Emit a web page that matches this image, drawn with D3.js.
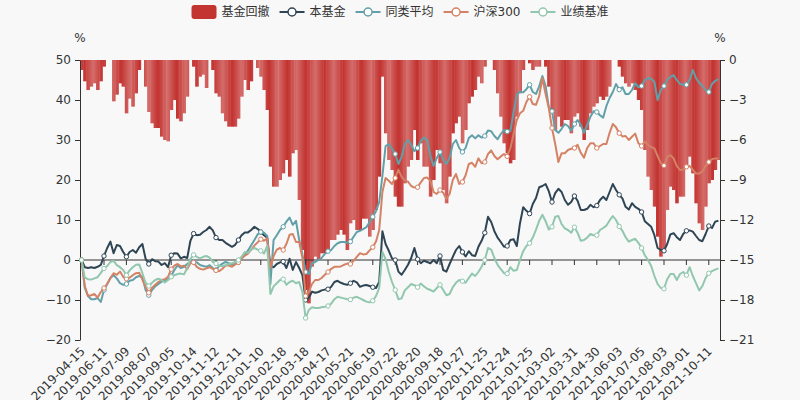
<!DOCTYPE html>
<html><head><meta charset="utf-8">
<script src="https://cdn.jsdelivr.net/npm/d3@7"></script>
<style>
body{margin:0;background:#f8f8f8;}
svg{display:block;}
text{font-family:"DejaVu Sans","Noto Sans CJK SC",sans-serif;}
</style>
</head><body>
<svg id="c" width="800" height="400"></svg>
<script>
const tickLabels = ["2019-04-15","2019-06-11","2019-07-09","2019-08-07","2019-09-05","2019-10-14","2019-11-12","2019-12-11","2020-01-10","2020-02-18","2020-03-18","2020-04-17","2020-05-21","2020-06-19","2020-07-22","2020-08-20","2020-09-18","2020-10-27","2020-11-25","2020-12-24","2021-01-25","2021-03-02","2021-03-31","2021-04-30","2021-06-03","2021-07-05","2021-08-03","2021-09-01","2021-10-11"];
const labelEvery = 7;
const seriesNames = ["基金回撤","本基金","同类平均","沪深300","业绩基准"];
const seriesColors = ["#c23531","#2f4554","#61a0a8","#d48265","#91c7ae"];
const leftTicks = [-20,-10,0,10,20,30,40,50];
const rightTicks = [0,-3,-6,-9,-12,-15,-18,-21];

const fund = [0,-1.8,-2,-1.8,-2,-1.7,-1.2,1.0,3.0,4.6,
1.7,3.75,3.5,2.0,0.8,2.0,2.5,1.8,3.2,4.0,
0.3,-1.0,0.2,-0.3,-0.4,-1.25,-0.8,-1.8,1.2,1.7,
1.6,0.4,0.8,0.5,4.8,6.6,6.2,6.3,7.0,7.5,
8.3,7.4,5.6,5.0,5.0,4.3,3.8,3.3,3.8,5.0,
6.2,6.9,6.9,7.5,8.3,7.8,7.0,6.2,5.6,-1.5,
-1.8,-1.0,-0.6,-0.4,-2.0,0.3,-2.5,-0.5,-2.0,-3.8,
-10.0,-9.5,-7.9,-8.2,-8.0,-7.6,-7.4,-7.3,-6.7,-5.5,
-5.2,-5.7,-6.0,-6.2,-5.8,-5.2,-5.6,-6.7,-6.4,-6.25,
-6.5,-6.8,-7.0,-5.5,7.2,4.0,2.3,0.4,0.0,-2.9,
-3.7,-2.5,-1.2,0.5,3.0,0.2,-0.8,-0.2,-0.5,-0.8,
0.0,-0.8,1.0,-2.5,-2.9,-1.0,0.8,2.5,3.5,2.0,
0.9,2.2,1.2,1.0,3.3,4.8,6.8,10.8,9.5,7.2,
5.6,4.5,3.3,3.5,5.0,5.2,3.5,9.2,13.2,12.3,
11.6,14.0,15.5,18.2,18.5,19.0,17.2,14.5,16.7,17.8,
17.0,15.0,13.8,14.5,16.0,14.8,12.5,12.5,12.8,13.8,
13.2,13.6,15.0,15.8,15.0,17.0,19.0,17.5,16.3,15.4,
13.3,12.6,14.2,13.3,12.8,12.0,9.7,9.0,8.3,6.2,
3.0,2.5,2.3,4.0,6.4,6.7,5.7,5.0,6.5,7.3,
7.4,7.1,6.0,5.0,4.7,6.5,8.5,8.0,9.6,9.8];

const peer = [0,-7.0,-9.0,-9.8,-9.8,-9.5,-10.5,-7.5,-6.0,-4.5,
-3.8,-4.6,-5.8,-6.2,-6.0,-5.2,-5.0,-4.3,-4.0,-4.2,
-7.5,-8.8,-7.5,-6.6,-6.0,-5.4,-5.2,-4.8,-4.0,-2.5,
-1.3,-2.0,-1.7,-1.0,-0.4,-0.4,-0.6,-1.25,-1.5,-1.7,
-1.3,-2.0,-2.5,-1.5,-0.9,-0.5,-0.8,-1.25,-0.9,-0.5,
0.4,1.2,2.4,3.7,5.0,6.4,7.0,6.8,6.0,-6.0,
5.0,6.2,7.5,8.3,9.6,10.6,8.8,9.8,5.0,1.5,
-3.0,-3.5,-0.8,-0.5,0.0,0.5,1.5,2.2,2.5,3.5,
4.2,4.5,4.5,4.3,4.6,5.8,7.0,7.3,7.7,8.2,
9.5,10.8,12.2,14.5,21.0,28.5,29.0,27.8,26.5,24.0,
25.8,29.0,30.0,28.8,27.2,28.0,29.8,30.6,30.0,26.0,
23.5,25.5,27.0,25.0,24.0,25.5,29.0,30.0,28.0,27.0,
28.0,30.5,31.2,30.4,31.2,30.6,31.0,32.4,32.2,31.0,
30.2,31.5,32.5,32.1,32.3,37.0,41.3,42.1,41.9,42.7,
43.8,42.0,41.5,43.4,46.0,43.5,38.3,37.2,32.5,31.8,
32.8,34.0,33.5,32.3,34.0,35.0,33.8,31.8,33.8,35.8,
37.2,37.0,36.2,35.6,38.5,40.5,42.0,44.0,42.6,43.2,
41.5,41.5,42.5,44.2,43.2,43.5,45.0,45.5,45.3,44.5,
40.0,42.5,43.5,45.0,45.8,46.2,45.0,44.0,43.8,43.8,
45.0,47.5,45.5,44.3,43.5,42.5,42.0,44.0,44.8,45.2];

const hs300 = [0,-6.5,-9.0,-8.8,-8.5,-9.4,-8.0,-7.0,-6.0,-4.5,
-3.3,-3.7,-2.9,-4.2,-4.7,-4.4,-3.8,-3.3,-3.2,-4.9,
-6.8,-8.2,-7.0,-6.2,-5.5,-5.0,-4.8,-4.2,-2.3,-1.4,
-1.0,-1.6,-1.4,-2.3,-0.8,-0.6,-1.7,-2.2,-2.4,-2.1,
-1.8,-2.2,-2.6,-2.8,-2.2,-1.4,-1.4,-1.7,-1.1,-0.6,
0.4,1.1,1.6,2.6,3.6,4.4,5.2,4.8,5.4,-2.0,
1.0,2.6,3.0,2.5,4.0,6.3,6.5,4.5,4.5,0.5,
-9.0,-8.0,-6.0,-5.0,-5.0,-4.5,-3.7,-3.0,-2.2,-1.7,
-1.7,-1.6,-1.2,-0.9,-1.0,-0.2,0.8,1.7,1.4,1.5,
2.4,3.2,4.6,7.5,17.0,20.5,19.8,19.0,20.5,22.6,
20.8,19.9,19.6,18.5,18.1,18.2,19.4,20.5,20.6,19.8,
17.0,16.5,17.5,16.8,15.3,16.5,20.0,21.5,19.0,19.5,
21.2,24.0,24.3,23.3,25.4,24.2,24.5,26.5,27.4,26.0,
25.2,25.9,26.5,25.9,28.0,31.5,35.0,36.7,37.3,39.5,
40.8,39.0,38.8,41.0,45.5,41.5,38.0,33.0,29.0,24.5,
26.7,26.7,27.5,27.8,28.0,28.8,26.8,25.6,28.0,29.2,
29.2,28.0,28.5,29.0,29.0,31.8,34.0,33.2,31.7,30.9,
31.0,30.0,30.8,31.6,29.2,28.5,29.6,28.8,28.2,27.9,
26.0,24.2,23.6,25.8,26.2,25.4,23.5,22.5,22.6,23.3,
23.5,22.6,21.6,21.6,22.2,23.5,24.5,25.2,25.4,25.4];

const bench = [0,-4.4,-4.8,-4.9,-4.6,-4.3,-3.2,-2.1,-1.5,-0.5,
-0.2,-1.3,-1.8,-2.5,-3.8,-2.6,-1.8,-1.2,-1.1,-3.3,
-5.7,-6.5,-5.7,-5.0,-4.7,-5.0,-5.6,-5.0,-4.2,-3.8,
-3.5,-3.4,-3.6,-2.0,0.3,1.3,0.8,0.4,0.8,1.0,
0.6,-0.5,-0.9,-1.5,-1.5,-1.3,-1.0,-0.8,-0.5,0.0,
0.8,2.0,1.8,2.6,3.0,2.6,2.3,1.6,3.5,-8.5,
-6.6,-5.8,-5.0,-4.8,-6.2,-5.5,-5.2,-5.8,-5.5,-8.0,
-14.5,-12.5,-11.8,-12.0,-12.0,-11.8,-11.7,-11.5,-10.9,-9.8,
-9.2,-9.4,-9.6,-9.8,-9.9,-9.4,-9.2,-9.6,-10.0,-10.4,
-10.6,-10.2,-9.0,-7.0,2.0,0.2,-3.0,-5.5,-7.5,-9.8,
-9.6,-7.6,-6.8,-6.0,-6.3,-6.8,-5.9,-6.6,-7.2,-7.5,
-7.9,-7.0,-6.2,-7.5,-8.8,-8.5,-6.8,-5.7,-5.0,-5.3,
-5.7,-4.5,-3.4,-4.0,-3.0,-1.7,0.0,3.0,2.6,0.5,
-1.2,-2.3,-3.3,-3.4,-1.8,-2.7,-2.5,0.0,2.2,3.5,
4.2,5.6,7.6,9.8,11.3,9.7,7.6,8.3,10.8,11.0,
9.0,7.9,7.5,6.8,8.2,6.8,4.8,5.0,5.6,6.5,
6.2,6.2,7.5,8.0,8.6,9.9,11.0,10.0,8.4,7.3,
5.7,4.6,5.0,5.3,4.3,3.0,1.2,0.0,-1.5,-4.0,
-6.0,-7.0,-7.2,-4.8,-3.5,-3.5,-5.0,-3.5,-3.0,-3.8,
-1.8,-4.0,-5.8,-7.6,-6.5,-4.5,-3.3,-2.8,-2.4,-2.1];

const drawdown = [-0.75,-1.6,-2.25,-2.0,-1.75,-2.25,-1.6,-0.5,0,0,
-3.1,-2.6,-1.75,-2.0,-4.0,-2.9,-3.5,-2.5,-0.75,0,
-2.0,-3.9,-4.75,-5.1,-5.1,-5.75,-6.0,-6.1,-3.75,-3.0,
-4.4,-4.6,-4.0,-2.75,0,-0.5,-2.0,-1.25,-1.1,-2.1,
0,-0.75,-2.5,-2.75,-4.0,-4.6,-5.0,-5.0,-5.0,-4.4,
-2.75,-1.5,-2.25,-1.6,0,-0.6,-1.25,-2.25,-3.75,-8.0,
-9.5,-9.5,-9.0,-8.5,-7.5,-8.75,-7.0,-6.75,-10.5,-14.25,
-17.25,-18.25,-15.5,-14.75,-15.0,-14.5,-14.5,-14.25,-13.5,-13.5,
-13.1,-12.75,-13.1,-14.25,-12.25,-12.0,-12.75,-12.75,-11.9,-11.9,
-13.25,-12.75,-11.25,-8.75,-1.25,-5.5,-7.5,-8.25,-10.25,-11.0,
-11.0,-9.25,-8.0,-7.5,-5.25,-7.5,-6.25,-8.0,-8.0,-10.25,
-9.0,-6.75,-7.75,-9.75,-10.75,-8.75,-5.5,-4.75,-4.25,-6.25,
-5.25,-3.25,-2.75,-2.25,-1.25,-1.75,-0.5,0,0,-0.75,
-2.5,-4.25,-6.25,-7.0,-7.75,-7.5,-4.25,-2.5,-0.75,0,
-0.25,-0.75,-0.5,-0.5,0,-0.5,-2.0,-3.75,-5.25,-4.25,
-5.0,-4.5,-4.5,-5.5,-4.25,-4.0,-5.0,-6.0,-5.25,-4.0,
-3.5,-3.25,-2.75,-3.0,-2.75,-2.0,0,0,-0.5,-1.25,
-1.75,-2.0,-1.75,-2.25,-3.0,-3.75,-6.75,-8.75,-9.75,-11.0,
-13.25,-14.75,-14.25,-11.25,-9.5,-9.75,-10.75,-10.25,-10.25,-8.0,
-7.25,-8.5,-10.75,-12.25,-12.75,-11.0,-9.25,-9.0,-8.25,-7.5];

const lineSeries = [fund, peer, hs300, bench];

const W = 800, H = 400;
const plot = {l: 80, r: 720, t: 60, b: 340};
const svg = d3.select("#c");
svg.append("rect").attr("width", W).attr("height", H).attr("fill", "#f8f8f8");

const n = fund.length;
const x = d3.scaleBand().domain(d3.range(n)).range([plot.l, plot.r]).padding(0);
const bw = x.bandwidth();
const cx = i => x(i) + bw / 2;
const yL = d3.scaleLinear().domain([-20, 50]).range([plot.b, plot.t]);
const yR = d3.scaleLinear().domain([-21, 0]).range([plot.b, plot.t]);

const defs = svg.append("defs");
const grad = defs.append("linearGradient").attr("id", "stripe")
  .attr("gradientUnits", "userSpaceOnUse")
  .attr("x1", plot.l + 4).attr("x2", plot.l + 4 + 18.5).attr("y1", 0).attr("y2", 0)
  .attr("spreadMethod", "repeat");
grad.append("stop").attr("offset", 0).attr("stop-color", "#c2322f");
grad.append("stop").attr("offset", 0.5).attr("stop-color", "#d46d6b");
grad.append("stop").attr("offset", 1).attr("stop-color", "#c2322f");

// drawdown bars (right axis)
svg.append("g").selectAll("rect").data(drawdown).join("rect")
  .attr("x", (d, i) => x(i))
  .attr("width", bw + 0.4)
  .attr("y", yR(0))
  .attr("height", d => Math.max(0, yR(d) - yR(0)))
  .attr("fill", "url(#stripe)");

// axes
const axisColor = "#333";
const gL = svg.append("g").attr("transform", `translate(${plot.l},0)`)
  .call(d3.axisLeft(yL).tickValues(leftTicks).tickSize(5).tickSizeOuter(0).tickPadding(4));
const gR = svg.append("g").attr("transform", `translate(${plot.r},0)`)
  .call(d3.axisRight(yR).tickValues(rightTicks).tickSize(5).tickSizeOuter(0).tickPadding(4));
[gL, gR].forEach(g => {
  g.select(".domain").attr("stroke", axisColor);
  g.selectAll(".tick line").attr("stroke", axisColor);
  g.selectAll(".tick text").attr("fill", "#333").attr("font-size", 12)
    .attr("font-family", "\"DejaVu Sans\", sans-serif");
});
svg.append("text").attr("x", plot.l).attr("y", 42).attr("text-anchor", "middle")
  .attr("font-size", 12).attr("fill", "#333").text("%");
svg.append("text").attr("x", plot.r).attr("y", 42).attr("text-anchor", "middle")
  .attr("font-size", 12).attr("fill", "#333").text("%");

// x axis line at zero
const y0 = yL(0);
svg.append("line").attr("x1", plot.l).attr("x2", plot.r).attr("y1", y0).attr("y2", y0)
  .attr("stroke", axisColor);
const labelIdx = tickLabels.map((t, k) => k * labelEvery);
svg.append("g").selectAll("line").data(labelIdx).join("line")
  .attr("x1", i => cx(i)).attr("x2", i => cx(i))
  .attr("y1", y0).attr("y2", y0 + 5).attr("stroke", axisColor);
svg.append("g").selectAll("text").data(tickLabels).join("text")
  .attr("transform", (t, k) => `translate(${cx(labelIdx[k]) + 1},${plot.b + 9}) rotate(-45)`)
  .attr("text-anchor", "end").attr("dy", "0.35em")
  .attr("font-size", 12).attr("fill", "#333")
  .text(t => t);

// lines
const line = d3.line().x((d, i) => cx(i)).y(d => yL(d));
lineSeries.forEach((s, si) => {
  const col = seriesColors[si + 1];
  svg.append("path").datum(s).attr("d", line).attr("fill", "none")
    .attr("stroke", col).attr("stroke-width", 2).attr("stroke-linejoin", "round");
  svg.append("g").selectAll("circle").data(labelIdx).join("circle")
    .attr("cx", i => cx(i)).attr("cy", i => yL(s[i])).attr("r", 2.2)
    .attr("fill", "#fff").attr("stroke", col).attr("stroke-width", 1);
});

// legend
const lg = svg.append("g");
let off = 0;
seriesNames.forEach((name, si) => {
  const g = lg.append("g").attr("transform", `translate(${off},0)`);
  const col = seriesColors[si];
  if (si === 0) {
    g.append("rect").attr("x", 0).attr("y", -7).attr("width", 25).attr("height", 14)
      .attr("rx", 3).attr("fill", col);
  } else {
    g.append("line").attr("x1", 0).attr("x2", 25).attr("y1", 0).attr("y2", 0)
      .attr("stroke", col).attr("stroke-width", 2);
    g.append("circle").attr("cx", 12.5).attr("cy", 0).attr("r", 4)
      .attr("fill", "#fff").attr("stroke", col).attr("stroke-width", 1.5);
  }
  const t = g.append("text").attr("x", 30).attr("y", 0).attr("dy", "0.35em")
    .attr("font-size", 12).attr("fill", "#333").text(name);
  off += 30 + t.node().getComputedTextLength() + 10;
});
const total = off - 10;
lg.attr("transform", `translate(${400 - total / 2},12)`);
</script>
</body></html>
